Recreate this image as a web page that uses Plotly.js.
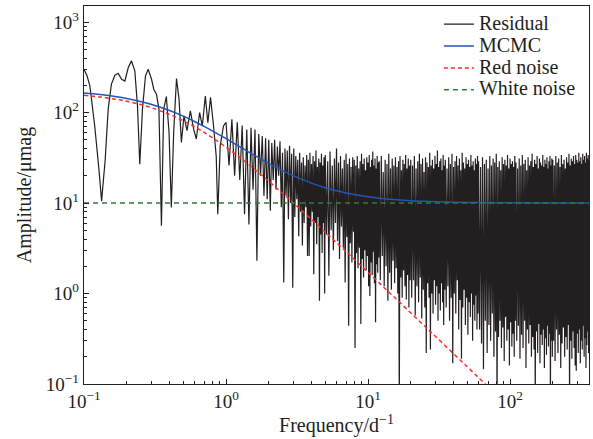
<!DOCTYPE html>
<html>
<head>
<meta charset="utf-8">
<script src="https://cdn.plot.ly/plotly-3.0.1.min.js"></script>
<style>html,body{margin:0;padding:0;background:#fff;}#chart{width:593px;height:439px;}</style>
</head>
<body>
<div id="chart"></div>
<script>
// ---- Residual spectrum ----
const freqA = [0.100,0.105,0.110,0.119,0.128,0.133,0.141,0.148,0.156,0.165,0.174,0.184,0.194,0.205,0.216,0.228,0.238,0.247,0.258,0.271,0.283,0.299,0.310,0.324,0.337,0.351,0.364,0.380,0.397,0.412,0.428,0.448,0.467,0.485,0.506,0.531,0.561,0.592,0.618,0.652,0.681,0.715,0.745,0.778,0.817,0.853,0.875,0.910,0.960];
const ampA = [301,255,197,71,21.7,10.5,30,109,206,258,271,233,223,314,372,288,118,26.8,109,254,301,233,181,159,109,5.6,109,150,60,8.9,60,237,140,46.7,92,63,104,65,51,100,71,152,77,147,71,33,7.5,42.8,71];

const freqB = [1.00,1.05,1.10,1.15,1.20,1.25,1.30,1.35,1.40,1.45,1.50,1.55,1.60,1.65,1.70,1.75,1.80,1.85,1.90,1.95,
  2.00,2.05,2.10,2.15,2.20,2.25,2.30,2.35,2.40,2.45,2.50,2.55,2.60,2.65,2.70,2.75,2.80,2.85,2.90,2.95,
  3.00,3.05,3.10,3.15,3.20,3.25,3.30,3.35,3.40,3.45,3.50,3.55,3.60,3.65,3.70,3.75,3.80,3.85,3.90,3.95,
  4.00,4.05,4.10,4.15,4.20,4.25,4.30,4.35,4.40,4.45,4.50,4.55,4.60,4.65,4.70,4.75,4.80,4.85,4.90,4.95,
  5.0,5.1,5.2,5.3,5.4,5.5,5.6,5.7,5.8,5.9,6.0,6.1,6.2,6.3,6.4,6.5,6.6,6.7,6.8,6.9,
  7.0,7.1,7.2,7.3,7.4,7.5,7.6,7.7,7.8,7.9];
const ampB = [78,26,84,20,78,18,72,7.5,65,5.8,68,14,65,2.3,58,20,55,12,52,11,
  50,8.2,46,18,50,14,42,20,48,9,36,1.32,40,12,38,6.6,43,10,35,1.16,
  40,7,33,11,30,4.3,36,8,28,3.4,32,6,26,9,34,2.6,30,2.6,36,5.5,
  27,8,33,1.63,29,6,38,3.5,25,7,31,0.83,28,4.5,35,2.8,26,6,32,1.0,
  34,4.5,29,1.57,37,5,26,3,31,6,40,3.8,28,2.4,33,5.5,24,3.2,30,1.32,
  35,4.2,27,0.44,31,3.6,25,2.2,32,4.8];

const freqC = [8.0,8.1,8.2,8.3,8.4,8.5,8.6,8.7,8.8,8.9,9.0,9.1,9.2,9.3,9.4,9.5,9.6,9.7,9.8,9.9,
  10.0,10.1,10.2,10.3,10.4,10.5,10.6,10.7,10.8,10.9,11.0,11.1,11.2,11.3,11.4,11.5,11.6,11.7,11.8,11.9,
  12.0,12.2,12.4,12.6,12.8,13.0,13.2,13.4,13.6,13.8,14.0,14.2,14.4,14.6,14.8,15.0,15.2,15.4,15.6,15.8,
  16.0,16.2,16.4,16.6,16.8,17.0,17.2,17.4,17.6,17.8,18.0,18.2,18.4,18.6,18.8,19.0,19.2,19.4,19.6,19.8];
const ampC = [30,0.25,26,2.8,33,1.9,24,3.2,29,0.46,35,2.4,27,1.5,31,3.0,23,1.8,32,2.6,
  28,1.2,34,0.94,25,2.2,30,1.6,37,2.9,26,1.3,31,0.48,24,2.1,33,1.7,28,2.5,
  29,1.4,33,2.6,22,1.2,30,2.0,27,0.83,35,1.7,24,1.1,31,2.3,26,1.3,32,1.9,
  25,1.0,29,0.05,33,1.5,23,0.9,30,1.8,27,1.2,34,0.86,24,1.6,31,0.7,26,1.4];

const freqD = [20.0,20.3,20.6,20.9,21.2,21.5,21.8,22.1,22.4,22.7,23.0,23.3,23.6,23.9,24.2,24.5,24.8,25.1,25.4,25.7,
  26.0,26.3,26.6,26.9,27.2,27.5,27.8,28.1,28.4,28.7,29.0,29.3,29.6,29.9,30.2,30.5,30.8,31.1,31.4,31.7,
  32.0,32.3,32.6,32.9,33.2,33.5,33.8,34.1,34.4,34.7,
  35.0,35.5,36.0,36.5,37.0,37.5,38.0,38.5,39.0,39.5,40.0,40.5,41.0,41.5,42.0,42.5,43.0,43.5,44.0,44.5,
  45.0,45.5,46.0,46.5,47.0,47.5,48.0,48.5,49.0,49.5,50.0,50.5,51.0,51.5,52.0,52.5,53.0,53.5,54.0,54.5,
  55.0,55.5,56.0,56.5,57.0,57.5,58.0,58.5,59.0,59.5];
const ampD = [30,0.9,26,1.4,33,0.57,24,1.2,29,0.8,35,1.5,27,0.53,31,1.1,22,0.7,32,0.22,
  28,1.3,25,0.9,36,0.24,26,1.0,30,0.6,24,1.4,33,0.75,27,1.2,38,0.5,25,1.0,
  29,0.65,31,1.3,23,0.8,34,0.45,26,1.1,
  30,0.7,24,1.2,32,0.5,27,0.9,35,0.17,25,1.0,29,0.6,33,1.4,26,0.4,31,0.85,
  23,0.19,36,0.7,28,1.1,24,0.45,32,0.9,27,0.35,30,0.8,25,0.55,34,1.0,26,0.3,
  29,0.75,23,0.5,31,0.95,27,0.4,33,0.6];

const freqE = [60,61,62,63,64,65,66,67,68,69,70,71,72,73,74,75,76,77,78,79,80,81,82,83,84,85,86,87,88,89,
  90,91,92,93,94,95,96,97,98,99,100,101,102,103,104,105,106,107,108,109,
  110,111.5,113,114.5,116,117.5,119,120.5,122,123.5,125,126.5,128,129.5,131,132.5,134,135.5,137,138.5,
  140,141.5,143,144.5,146,147.5,149,150.5,152,153.5,155,156.5,158,159.5,161,162.5,164,165.5,167,168.5,
  170,171.5,173,174.5,176,177.5,179,180.5,182,183.5,185,186.5,188,189.5,191,192.5,194,195.5,197,198.5];
const ampE = [29,0.4,25,0.28,32,0.146,27,0.5,30,0.22,24,0.45,33,0.3,26,0.6,31,0.2,28,0.38,35,0.05,25,0.33,29,0.5,23,0.25,32,0.42,
  27,0.18,30,0.55,26,0.3,34,0.4,24,0.16,31,0.48,27,0.26,29,0.36,25,0.2,33,0.5,
  28,0.3,24,0.44,31,0.19,26,0.35,34,0.25,27,0.5,30,0.15,23,0.4,32,0.28,26,0.45,
  29,0.2,35,0.33,25,0.24,30,0.05,27,0.38,33,0.22,24,0.46,31,0.17,28,0.35,26,0.27,
  34,0.4,25,0.15,30,0.32,27,0.21,32,0.44,24,0.26,29,0.36,33,0.05,26,0.3,31,0.2];

const freqF = [200,202.5,205,207.5,210,212.5,215,217.5,220,222.5,225,227.5,230,232.5,235,237.5,240,242.5,245,247.5,
  250,252.5,255,257.5,260,262.5,265,267.5,270,272.5,275,277.5,280,282.5,285,287.5,290,292.5,295,297.5,
  300,302.5,305,307.5,310,312.5,315,317.5,320,322.5,325,327.5,330,332.5,335,337.5,340,342.5,345,347.5,
  350,352.5,355,357.5,360];
const ampF = [30,0.3,26,0.18,33,0.4,28,0.22,31,0.35,25,0.15,34,0.28,27,0.42,30,0.2,24,0.33,
  32,0.24,28,0.45,35,0.05,26,0.3,31,0.19,29,0.38,33,0.25,27,0.16,34,0.14,30,0.36,
  28,0.22,36,0.4,29,0.17,32,0.3,27,0.24,35,0.44,30,0.2,33,0.32,28,0.15,36,0.27,
  31,0.38,34,0.22,30];

// ---- Model curves ----
const modelFreq = [0.1,0.13,0.17,0.2,0.25,0.3,0.4,0.5,0.6,0.7,0.8,1,1.3,1.6,2,2.5,3,4,5,6,7,8,10,13,16,20,25,30,40,50,60,70,80,100,150,200,400];
const redNoise = [154.8,148.4,139.6,133.1,122.5,112.6,95.2,81.1,69.6,60.3,52.8,41.5,30.4,23.35,17.4,12.8,9.92,6.58,4.76,3.65,2.91,2.39,1.714,1.160,0.852,0.610,0.437,0.333,0.2163,0.1548,0.1177,0.0935,0.0766,0.0548,0.0298,0.0194,0.00685];
const mcmc = [164.8,158.4,149.6,143.1,132.5,122.6,105.2,91.1,79.6,70.3,62.8,51.5,40.4,33.35,27.4,22.8,19.92,16.58,14.76,13.65,12.91,12.39,11.71,11.16,10.85,10.61,10.44,10.33,10.22,10.15,10.12,10.09,10.08,10.05,10.03,10.02,10.01];
const whiteFreq = [0.1, 400];
const whiteNoise = [10, 10];

// ---- Tick labels ----
const xTickVals = [0.1, 1, 10, 100];
const xTickText = ['10<sup>−1</sup>', '10<sup>0</sup>', '10<sup>1</sup>', '10<sup>2</sup>'];
const yTickVals = [0.1, 1, 10, 100, 1000];
const yTickText = ['10<sup>−1</sup>', '10<sup>0</sup>', '10<sup>1</sup>', '10<sup>2</sup>', '10<sup>3</sup>'];
const xMinor = [0.2,0.3,0.4,0.5,0.6,0.7,0.8,0.9,2,3,4,5,6,7,8,9,20,30,40,50,60,70,80,90,200,300];
const yMinor = [0.2,0.3,0.4,0.5,0.6,0.7,0.8,0.9,2,3,4,5,6,7,8,9,20,30,40,50,60,70,80,90,200,300,400,500,600,700,800,900];
const seriesNames = ['Residual', 'MCMC', 'Red noise', 'White noise'];

const resFreq = [].concat(freqA, freqB, freqC, freqD, freqE, freqF);
const resAmp = [].concat(ampA, ampB, ampC, ampD, ampE, ampF);

const ink = '#231f20';
const FONT = 'Liberation Serif, Times New Roman, serif';
const big = s => '<span style="font-size:20px">' + s + '</span>';

const traces = [
  {x: resFreq, y: resAmp, type: 'scatter', mode: 'lines', name: big(seriesNames[0]),
   line: {color: ink, width: 1.2}},
  {x: modelFreq, y: mcmc, type: 'scatter', mode: 'lines', name: big(seriesNames[1]),
   line: {color: '#2155b8', width: 1.5, shape: 'spline'}},
  {x: modelFreq, y: redNoise, type: 'scatter', mode: 'lines', name: big(seriesNames[2]),
   line: {color: '#ff2a2a', width: 1.5, dash: '4px,3px', shape: 'spline'}},
  {x: whiteFreq, y: whiteNoise, type: 'scatter', mode: 'lines', name: big(seriesNames[3]),
   line: {color: '#2e7d3a', width: 1.5, dash: '5px,4px'}}
];

const axisCommon = {
  type: 'log', showgrid: false, zeroline: false,
  showline: true, linecolor: ink, linewidth: 1.2, mirror: true,
  ticks: 'inside', ticklen: 5, tickwidth: 1, tickcolor: ink,
  tickmode: 'array',
  tickfont: {family: FONT, size: 19, color: ink}
};

const layout = {
  width: 593, height: 439,
  margin: {l: 84, r: 4, t: 6, b: 55},
  paper_bgcolor: '#fff', plot_bgcolor: '#fff',
  font: {family: FONT, color: ink},
  showlegend: true,
  legend: {x: 0.984, xanchor: 'right', y: 0.994, yanchor: 'top', bgcolor: 'rgba(0,0,0,0)',
           borderwidth: 0, font: {family: FONT, size: 14.5, color: ink}},
  xaxis: Object.assign({}, axisCommon, {
    range: [-1, 2.556], tickvals: xTickVals, ticktext: xTickText,
    minor: {tickmode: 'array', tickvals: xMinor, ticks: 'inside', ticklen: 3, tickwidth: 1, tickcolor: ink},
    title: {text: 'Frequency/d<sup>−1</sup>', font: {family: FONT, size: 20, color: ink}, standoff: 3}
  }),
  yaxis: Object.assign({}, axisCommon, {
    range: [-1, 3.177], tickvals: yTickVals, ticktext: yTickText,
    minor: {tickmode: 'array', tickvals: yMinor, ticks: 'inside', ticklen: 3, tickwidth: 1, tickcolor: ink},
    title: {text: 'Amplitude/μmag', font: {family: FONT, size: 20, color: ink}, standoff: 8}
  })
};

Plotly.newPlot('chart', traces, layout, {displayModeBar: false, staticPlot: true});
</script>
</body>
</html>
